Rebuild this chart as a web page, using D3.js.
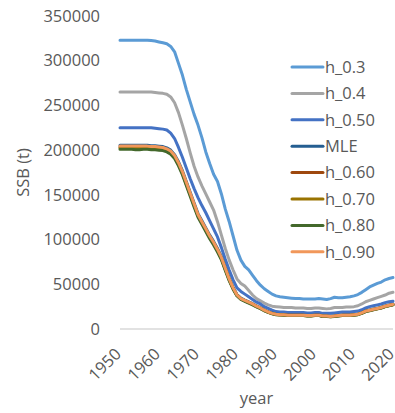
<!DOCTYPE html>
<html lang="en">
<head>
<meta charset="UTF-8">
<title>SSB by steepness</title>
<script src="https://d3js.org/d3.v7.min.js"></script>
<style>
  body { margin: 0; background: #fff; font-family: 'Open Sans', sans-serif; }
  .tick-label { fill: #595959; font-size: 16.5px; }
  .axis-title { fill: #595959; font-size: 16.5px; }
  .legend-label { fill: #595959; font-size: 16.5px; }
</style>
</head>
<body>
<script>
// years on the category axis
const years = d3.range(1950, 2021);
const xTicks = [1950, 1960, 1970, 1980, 1990, 2000, 2010, 2020];
const yTicks = [0, 50000, 100000, 150000, 200000, 250000, 300000, 350000];

const seriesNames = ["h_0.3", "h_0.4", "h_0.50", "MLE", "h_0.60", "h_0.70", "h_0.80", "h_0.90"];
const seriesColors = ["#5B9BD5", "#A5A5A5", "#4472C4", "#255E91", "#9E480E", "#997300", "#43682B", "#F1975A"];

// SSB (t), one value per year 1950..2020
const h03 = [
  323000, 323000, 323000, 323000, 323000, 323000, 323000, 323000, 322500, 322000,
  321000, 320000, 319000, 316000, 310000, 297000, 284000, 268000, 254000, 240000,
  228000, 214000, 198000, 185000, 173000, 165000, 151000, 134000, 120000, 104000,
  88000, 77000, 70000, 66000, 60000, 54000, 49000, 45000, 42000, 39000,
  37000, 36000, 35500, 35000, 34500, 34000, 34000, 33500, 33500, 33500,
  33500, 34000, 33500, 33000, 34000, 35500, 35000, 35000, 35500, 36000,
  37000, 38500, 41000, 44000, 47000, 49000, 51000, 52500, 55000, 56500, 57500
];
const h04 = [
  265000, 265000, 265000, 265000, 265000, 265000, 265000, 265000, 265000, 264500,
  264000, 263500, 262500, 259500, 253000, 242000, 228000, 213000, 197000, 182000,
  170000, 160000, 151000, 142000, 133000, 120000, 105000, 90000, 77000, 66000,
  56000, 51000, 48000, 43000, 38000, 34000, 31500, 29000, 27000, 25500,
  25000, 24500, 24000, 24000, 24000, 23500, 23500, 23500, 23000, 23000,
  23500, 23500, 23000, 22500, 23000, 24000, 24000, 24000, 24500, 24500,
  25000, 26000, 28000, 30500, 32000, 33500, 35000, 36500, 38000, 40000, 41000
];
const h050 = [
  225000, 225000, 225000, 225000, 225000, 225000, 225000, 225000, 225000, 224500,
  224000, 223500, 222500, 219000, 213000, 203000, 192000, 180000, 168000, 157000,
  147000, 138000, 130000, 121000, 112000, 103000, 91000, 78000, 66000, 55000,
  46000, 42000, 39000, 36000, 33000, 30000, 28000, 25000, 23000, 21000,
  19500, 19000, 19000, 18500, 18500, 18500, 18500, 18500, 18000, 18000,
  18500, 18500, 17500, 17500, 17500, 18000, 18500, 19000, 19000, 19000,
  19500, 20000, 21500, 23500, 25000, 26000, 27000, 28000, 29500, 30500, 31000
];
const mle = [
  205500, 205500, 205500, 205500, 205500, 205500, 205500, 205500, 205000, 205000,
  204500, 204000, 202500, 200000, 195000, 187000, 177000, 165000, 153000, 141000,
  129000, 121000, 113000, 105000, 98000, 90000, 81000, 69000, 57000, 46500,
  38500, 34500, 32300, 30300, 28300, 25800, 23800, 21300, 19300, 17800,
  16800, 16300, 16300, 15800, 15800, 15800, 15800, 15800, 15300, 15300,
  15800, 15800, 14800, 14800, 14300, 14800, 15300, 15800, 15800, 15800,
  16300, 16800, 18300, 20300, 21300, 22300, 23300, 24300, 25800, 26800, 27800
];
const h060 = [
  203500, 203500, 203500, 203500, 203500, 203500, 203500, 203500, 203000, 203000,
  202500, 202000, 200500, 198000, 193000, 185000, 175000, 163000, 151000, 139000,
  127000, 119000, 111000, 103000, 96000, 88000, 79000, 67000, 55500, 45500,
  37800, 33800, 31800, 29800, 27800, 25300, 23300, 20800, 18800, 17300,
  16300, 15900, 15800, 15300, 15300, 15300, 15300, 15300, 14900, 14900,
  15300, 15300, 14300, 14300, 13900, 14300, 14800, 15300, 15300, 15300,
  15800, 16300, 17800, 19800, 20800, 21800, 22800, 23800, 25300, 26300, 27300
];
const h070 = [
  202500, 202500, 202500, 202500, 202500, 202500, 202500, 202500, 202000, 202000,
  201500, 201000, 199500, 197000, 192000, 184000, 174000, 162000, 150000, 138000,
  126500, 118500, 110500, 102500, 95500, 87500, 78500, 66500, 55000, 45000,
  37500, 33500, 31500, 29500, 27500, 25000, 23000, 20700, 18700, 17200,
  16200, 15800, 15700, 15200, 15200, 15200, 15200, 15200, 14800, 14800,
  15200, 15200, 14200, 14200, 13800, 14200, 14700, 15200, 15200, 15200,
  15700, 16200, 17700, 19700, 20700, 21700, 22700, 23700, 25200, 26200, 27200
];
const h080 = [
  201000, 201000, 201000, 201000, 200500, 200500, 201000, 201000, 200500, 200500,
  200000, 199500, 198000, 195500, 190500, 182500, 172500, 160500, 148500, 136500,
  125000, 117000, 109000, 101000, 94000, 86000, 77500, 65500, 54000, 44500,
  37000, 33000, 31000, 29000, 27000, 24800, 22800, 20400, 18500, 17000,
  16000, 15600, 15500, 15000, 15000, 15000, 15000, 15000, 14600, 14600,
  15000, 15000, 14000, 14000, 13600, 14000, 14500, 15000, 15000, 15000,
  15500, 16000, 17500, 19500, 20500, 21500, 22500, 23500, 25000, 26000, 27000
];
const h090 = [
  204500, 204500, 204500, 204500, 204500, 204500, 204500, 204500, 204000, 204000,
  203500, 203000, 201500, 199000, 194000, 186000, 176000, 164000, 152000, 140000,
  128000, 120000, 112000, 104000, 97000, 89000, 80000, 68000, 56000, 46000,
  38000, 34000, 32000, 30000, 28000, 25500, 23500, 21000, 19000, 17500,
  16500, 16000, 16000, 15500, 15500, 15500, 15500, 15500, 15000, 15000,
  15500, 15500, 14500, 14500, 14000, 14500, 15000, 15500, 15500, 15500,
  16000, 16500, 18000, 20000, 21000, 22000, 23000, 24000, 25500, 26500, 27500
];
const seriesValues = [h03, h04, h050, mle, h060, h070, h080, h090];

const width = 395, height = 413;
const margin = { left: 120, right: 2, top: 16, bottom: 84 };

const svg = d3.select("body").append("svg")
  .attr("width", width)
  .attr("height", height);

const x = d3.scaleLinear()
  .domain([1950, 2020])
  .range([margin.left, width - margin.right]);
const y = d3.scaleLinear()
  .domain([0, 350000])
  .range([height - margin.bottom, margin.top]);

// x axis line
svg.append("line")
  .attr("x1", x(1950)).attr("x2", x(2020))
  .attr("y1", y(0)).attr("y2", y(0))
  .attr("stroke", "#D9D9D9")
  .attr("stroke-width", 1.3);

// y tick labels (no axis line in the original)
svg.selectAll(".ylab")
  .data(yTicks)
  .join("text")
  .attr("class", "tick-label")
  .attr("x", 100)
  .attr("y", d => y(d))
  .attr("dy", "0.35em")
  .attr("text-anchor", "end")
  .text(d => d);

// x tick labels, rotated
svg.selectAll(".xlab")
  .data(xTicks)
  .join("text")
  .attr("class", "tick-label")
  .attr("text-anchor", "end")
  .attr("transform", d => `translate(${x(d) - 2}, ${y(0) + 22}) rotate(-45)`)
  .attr("dy", "0.35em")
  .text(d => d);

// axis titles
svg.append("text")
  .attr("class", "axis-title")
  .attr("x", (x(1950) + x(2020)) / 2)
  .attr("y", 398)
  .attr("dy", "0.35em")
  .attr("text-anchor", "middle")
  .text("year");

svg.append("text")
  .attr("class", "axis-title")
  .attr("transform", `translate(23, ${(y(0) + y(350000)) / 2}) rotate(-90)`)
  .attr("dy", "0.35em")
  .attr("text-anchor", "middle")
  .text("SSB (t)");

// series lines
const line = d3.line()
  .x((d, i) => x(years[i]))
  .y(d => y(d));

seriesValues.forEach((vals, k) => {
  svg.append("path")
    .datum(vals)
    .attr("fill", "none")
    .attr("stroke", seriesColors[k])
    .attr("stroke-width", 3)
    .attr("stroke-linejoin", "round")
    .attr("stroke-linecap", "round")
    .attr("d", line);
});

// legend
const legend = svg.append("g").attr("transform", "translate(292, 67)");
seriesNames.forEach((name, k) => {
  const g = legend.append("g").attr("transform", `translate(0, ${k * 26.4})`);
  g.append("line")
    .attr("x1", 0).attr("x2", 31)
    .attr("y1", 0).attr("y2", 0)
    .attr("stroke", seriesColors[k])
    .attr("stroke-width", 3)
    .attr("stroke-linecap", "round");
  g.append("text")
    .attr("class", "legend-label")
    .attr("x", 33)
    .attr("y", 0)
    .attr("dy", "0.35em")
    .text(name);
});
</script>
</body>
</html>
